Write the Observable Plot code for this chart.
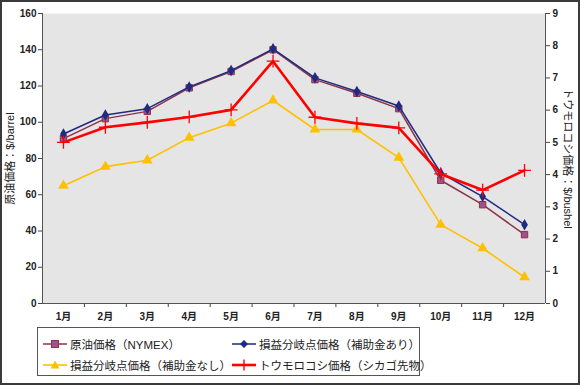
<!DOCTYPE html>
<html><head><meta charset="utf-8">
<script src="https://cdn.jsdelivr.net/npm/d3@7"></script>
<script src="https://cdn.jsdelivr.net/npm/@observablehq/plot@0.6"></script>
<style>
body{margin:0;background:#fff;font-family:"Liberation Sans",Arial,"Noto Sans CJK JP",sans-serif;}
#wrap{position:relative;width:580px;height:385px;overflow:hidden;}
#border{position:absolute;left:0;top:0;width:580px;height:385px;box-sizing:border-box;border:2px solid #3a3a3a;pointer-events:none;}
#legend{position:absolute;left:37px;top:327px;width:383px;height:49px;box-sizing:border-box;border:1px solid #555;background:#fff;font-size:11.5px;color:#222;}
.item{position:absolute;display:flex;align-items:center;white-space:nowrap;}
.item svg{margin-right:3px;}
</style></head>
<body><div id="wrap"><div id="border"></div></div>
<script>
const months = [1,2,3,4,5,6,7,8,9,10,11,12];
const monthLabels = ["1月","2月","3月","4月","5月","6月","7月","8月","9月","10月","11月","12月"];
const crudeOil = [91,102,106,119,128,140,123.5,116,107.5,68,54.5,38];
const breakevenWithSubsidy = [93.5,104,107.5,119.5,128.5,140.5,124.5,117,109,72,59,43.5];
const breakevenNoSubsidy = [65,75.5,79,91.5,99.5,112,96,96,80.5,43.5,30.5,14.5];
const cornPrice = [5.0,5.47,5.62,5.79,6.01,7.52,5.78,5.59,5.45,4.02,3.52,4.13];
const leftTicks = [0,20,40,60,80,100,120,140,160];
const rightTicks = [0,1,2,3,4,5,6,7,8,9];
const seriesNames = ["原油価格（NYMEX）","損益分岐点価格（補助金あり）","損益分岐点価格（補助金なし）","トウモロコシ価格（シカゴ先物）"];

const k = 160/9;
const mk = arr => arr.map((v,i)=>({m:months[i], v}));
const oil = mk(crudeOil), withS = mk(breakevenWithSubsidy), noS = mk(breakevenNoSubsidy);
const corn = cornPrice.map((v,i)=>({m:months[i], v:v*k}));

const C = {oil:"#8c3348", oilFill:"#a0508c", navy:"#1f2a80", yellow:"#ffc000", red:"#ff0000"};

const chart = Plot.plot({
  width:580, height:385,
  marginLeft:42, marginRight:35, marginTop:13, marginBottom:82,
  style:{fontFamily:"'Liberation Sans',Arial,'Noto Sans CJK JP',sans-serif", fontSize:"10px", color:"#222", background:"transparent"},
  x:{type:"linear", domain:[0.5,12.5], axis:null},
  y:{domain:[0,160], axis:null},
  marks:[
    Plot.frame({fill:"#e5e5e5", stroke:null}),
    Plot.axisY({ticks:leftTicks, tickSize:4, tickPadding:2, label:null, tickFormat:d=>String(d), stroke:"#444", fill:"#222", fontWeight:"bold"}),
    Plot.axisY({anchor:"right", ticks:rightTicks.map(v=>v*k), tickSize:4, tickPadding:3, label:null, tickFormat:d=>String(Math.round(d/k)), stroke:"#444", fill:"#222", fontWeight:"bold"}),
    Plot.axisX({ticks:months, tickSize:0, tickPadding:9, label:null, tickFormat:d=>monthLabels[d-1], fill:"#222", fontWeight:"bold"}),
    Plot.axisX({ticks:d3.range(1.5,12,1), tickSize:4, label:null, tickFormat:()=>"", stroke:"#444"}),
    Plot.ruleX([0.5,12.5], {stroke:"#555", strokeWidth:1}),
    Plot.ruleY([0], {stroke:"#555", strokeWidth:1}),
    Plot.text(["原油価格：$/barrel"], {frameAnchor:"left", textAnchor:"middle", dx:-32, rotate:-90, fontSize:11, fill:"#222"}),
    Plot.text(["トウモロコシ価格：$/bushel"], {frameAnchor:"right", textAnchor:"middle", dx:22, rotate:90, fontSize:11, fill:"#222"}),
    Plot.line(noS, {x:"m", y:"v", stroke:C.yellow, strokeWidth:1.6}),
    Plot.dot(noS, {x:"m", y:"v", symbol:"triangle", r:4, fill:C.yellow, stroke:null}),
    Plot.line(oil, {x:"m", y:"v", stroke:C.oil, strokeWidth:1.5}),
    Plot.dot(oil, {x:"m", y:"v", symbol:"square", r:3.6, fill:C.oilFill, stroke:C.oil, strokeWidth:1}),
    Plot.line(withS, {x:"m", y:"v", stroke:C.navy, strokeWidth:1.5}),
    Plot.dot(withS, {x:"m", y:"v", symbol:"diamond", r:3.5, fill:C.navy, stroke:null}),
    Plot.line(corn, {x:"m", y:"v", stroke:C.red, strokeWidth:2.6}),
    Plot.dot(corn, {x:"m", y:"v", symbol:"plus", r:4.2, stroke:C.red, strokeWidth:1.3})
  ]
});
chart.style.position="absolute"; chart.style.left="0"; chart.style.top="0";
const wrap = document.getElementById("wrap");
wrap.insertBefore(chart, wrap.firstChild);

// legend
const legend = document.createElement("div");
legend.id="legend";
const sym = {
  sq:`<rect x="8.5" y="2.5" width="7" height="7" fill="${C.oilFill}" stroke="${C.oil}"/>`,
  di:`<path d="M12 2 L16 6 L12 10 L8 6 Z" fill="${C.navy}"/>`,
  tri:`<path d="M12 1.5 L16.5 9.5 L7.5 9.5 Z" fill="${C.yellow}"/>`,
  plus:`<path d="M12 0.5 V11.5 M7 6 H17" stroke="${C.red}" stroke-width="1.4"/>`
};
const items = [
  {name:seriesNames[0], color:C.oil, w:1.5, s:sym.sq, x:5, y:8},
  {name:seriesNames[1], color:C.navy, w:1.5, s:sym.di, x:194, y:8},
  {name:seriesNames[2], color:C.yellow, w:1.6, s:sym.tri, x:5, y:29},
  {name:seriesNames[3], color:C.red, w:2.6, s:sym.plus, x:194, y:29}
];
for(const it of items){
  const d=document.createElement("div");
  d.className="item"; d.style.left=it.x+"px"; d.style.top=it.y+"px";
  d.innerHTML=`<svg width="24" height="12"><line x1="0" x2="24" y1="6" y2="6" stroke="${it.color}" stroke-width="${it.w}"/>${it.s}</svg><span>${it.name}</span>`;
  legend.appendChild(d);
}
wrap.appendChild(legend);
</script></body></html>
